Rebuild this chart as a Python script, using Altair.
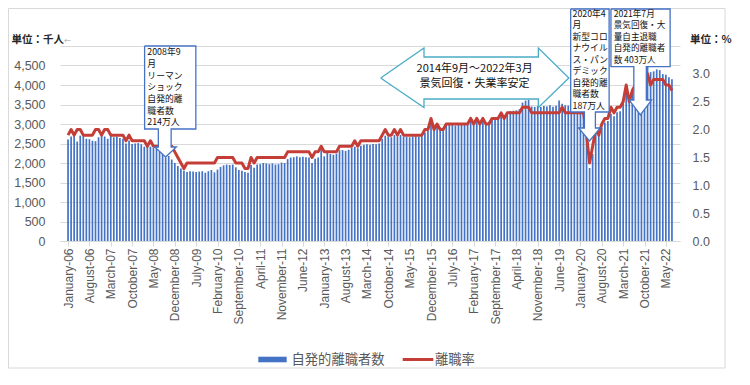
import altair as alt
import pandas as pd

# ---------------- data ----------------
# voluntary quits, thousands, monthly Jan-2006 .. Jul-2022
QUITS_2006 = [2600, 2680, 2760, 2550, 2700, 2690, 2620, 2610, 2570, 2560, 2660, 2780]
QUITS_2007 = [2680, 2620, 2760, 2660, 2680, 2640, 2620, 2500, 2580, 2490, 2500, 2510]
QUITS_2008 = [2480, 2420, 2460, 2420, 2390, 2360, 2300, 2260, 2140, 2180, 2090, 2000]
QUITS_2009 = [1920, 1860, 1800, 1770, 1790, 1780, 1770, 1780, 1790, 1750, 1790, 1820]
QUITS_2010 = [1760, 1830, 1900, 1940, 1960, 1950, 1960, 1890, 1820, 1800, 1770, 1750]
QUITS_2011 = [1950, 1880, 1960, 1970, 2000, 1990, 1970, 1990, 1960, 1970, 2010, 2000]
QUITS_2012 = [2100, 2140, 2150, 2170, 2150, 2160, 2150, 2140, 2000, 2110, 2140, 2330]
QUITS_2013 = [2170, 2260, 2230, 2210, 2240, 2330, 2330, 2310, 2340, 2390, 2420, 2380]
QUITS_2014 = [2440, 2470, 2480, 2470, 2490, 2480, 2500, 2620, 2700, 2680, 2660, 2720]
QUITS_2015 = [2680, 2720, 2680, 2670, 2660, 2680, 2690, 2680, 2710, 2780, 2820, 3080]
QUITS_2016 = [2860, 2930, 2880, 2900, 2970, 2980, 2990, 2960, 2970, 2980, 2990, 2990]
QUITS_2017 = [3100, 2980, 3150, 3020, 3130, 3030, 3060, 3130, 3110, 3160, 3220, 3160]
QUITS_2018 = [3300, 3330, 3340, 3350, 3380, 3550, 3600, 3620, 3450, 3440, 3460, 3440]
QUITS_2019 = [3460, 3450, 3480, 3440, 3470, 3600, 3520, 3480, 3470, 3460, 3480, 3450]
QUITS_2020 = [3450, 3440, 2900, 1870, 2230, 2720, 2700, 2900, 3040, 3080, 3260, 3200]
QUITS_2021 = [3300, 3330, 3560, 3980, 3620, 3880, 4030, 4270, 4360, 4200, 4480, 4330]
QUITS_2022 = [4350, 4400, 4380, 4280, 4260, 4200, 4150]

# quit rate, %
RATE_2006 = [1.9, 2.0, 1.9, 2.0, 2.0, 1.9, 1.9, 1.9, 1.9, 2.0, 2.0, 1.9]
RATE_2007 = [2.0, 2.0, 1.9, 1.9, 1.9, 1.9, 1.9, 1.8, 1.9, 1.8, 1.8, 1.8]
RATE_2008 = [1.8, 1.8, 1.7, 1.8, 1.7, 1.7, 1.7, 1.7, 1.7, 1.7, 1.7, 1.6]
RATE_2009 = [1.5, 1.4, 1.3, 1.4, 1.4, 1.4, 1.4, 1.4, 1.4, 1.4, 1.4, 1.4]
RATE_2010 = [1.4, 1.5, 1.5, 1.5, 1.5, 1.5, 1.5, 1.4, 1.4, 1.4, 1.3, 1.3]
RATE_2011 = [1.5, 1.4, 1.5, 1.5, 1.5, 1.5, 1.5, 1.5, 1.5, 1.5, 1.5, 1.5]
RATE_2012 = [1.6, 1.6, 1.6, 1.6, 1.6, 1.6, 1.6, 1.6, 1.5, 1.6, 1.6, 1.7]
RATE_2013 = [1.6, 1.6, 1.6, 1.6, 1.6, 1.7, 1.7, 1.7, 1.7, 1.7, 1.8, 1.7]
RATE_2014 = [1.8, 1.8, 1.8, 1.8, 1.8, 1.8, 1.8, 1.9, 2.0, 1.9, 1.9, 2.0]
RATE_2015 = [1.9, 2.0, 1.9, 1.9, 1.9, 1.9, 1.9, 1.9, 1.9, 2.0, 2.0, 2.2]
RATE_2016 = [2.0, 2.1, 2.0, 2.0, 2.1, 2.1, 2.1, 2.1, 2.1, 2.1, 2.1, 2.1]
RATE_2017 = [2.2, 2.1, 2.2, 2.1, 2.2, 2.1, 2.1, 2.2, 2.2, 2.2, 2.3, 2.2]
RATE_2018 = [2.3, 2.3, 2.3, 2.3, 2.3, 2.4, 2.4, 2.4, 2.3, 2.3, 2.3, 2.3]
RATE_2019 = [2.3, 2.3, 2.3, 2.3, 2.3, 2.3, 2.4, 2.3, 2.3, 2.3, 2.3, 2.3]
RATE_2020 = [2.3, 2.3, 1.9, 1.4, 1.7, 2.0, 1.9, 2.1, 2.2, 2.2, 2.4, 2.3]
RATE_2021 = [2.4, 2.4, 2.5, 2.8, 2.5, 2.7, 2.8, 2.9, 3.0, 3.0, 3.0, 2.8]
RATE_2022 = [2.9, 2.9, 2.9, 2.9, 2.8, 2.8, 2.7]

TICK_LABELS = ["January-06", "August-06", "March-07", "October-07", "May-08",
               "December-08", "July-09", "February-10", "September-10", "April-11",
               "November-11", "June-12", "January-13", "August-13", "March-14",
               "October-14", "May-15", "December-15", "July-16", "February-17",
               "September-17", "April-18", "November-18", "June-19", "January-20",
               "August-20", "March-21", "October-21", "May-22"]

SERIES_NAMES = ["自発的離職者数", "離職率"]
UNIT_LEFT = "単位：千人"
UNIT_RIGHT = "単位：%"

TEXT_2008 = ["2008年9", "月", "リーマン", "ショック", "自発的離", "職者数", "214万人"]
TEXT_2020 = ["2020年4", "月", "新型コロ", "ナウイル", "ス・パン", "デミック", "自発的離", "職者数", "187万人"]
TEXT_2021 = ["2021年7月", "景気回復・大", "量自主退職", "自発的離職者", "数 403万人"]
TEXT_ARROW = ["2014年9月～2022年3月", "景気回復・失業率安定"]

# ---------------- annotation geometry (month index, thousands) ----------------
SHAPE_2008 = [(25.1, 5000), (41.9, 5000), (41.9, 2872), (33.8, 2872), (33.8, 2410),
              (35.5, 2410), (32.0, 2154), (28.4, 2410), (29.6, 2410), (29.6, 2872),
              (25.1, 2872), (25.1, 5000)]
SHAPE_2020 = [(164.8, 5949), (177.4, 5949), (177.4, 3308), (172.9, 3308), (172.9, 2897),
              (174.5, 2897), (170.95, 2564), (167.4, 2897), (169.3, 2897), (169.3, 3308),
              (164.8, 3308), (164.8, 5949)]
SHAPE_2021 = [(178.0, 5949), (197.4, 5949), (197.4, 4470), (189.6, 4470), (189.6, 3615),
              (191.3, 3615), (187.65, 3231), (184.0, 3615), (185.5, 3615), (185.5, 4470),
              (178.0, 4470), (178.0, 5949)]
SHAPE_ARROW = [(102.5, 4179), (116.7, 4949), (116.7, 4718), (154.2, 4718), (154.2, 4949),
               (164.2, 4179), (154.2, 3423), (154.2, 3641), (116.7, 3641), (116.7, 3423),
               (102.5, 4179)]

# ---------------- build tables ----------------
quits = (QUITS_2006 + QUITS_2007 + QUITS_2008 + QUITS_2009 + QUITS_2010 + QUITS_2011 +
         QUITS_2012 + QUITS_2013 + QUITS_2014 + QUITS_2015 + QUITS_2016 + QUITS_2017 +
         QUITS_2018 + QUITS_2019 + QUITS_2020 + QUITS_2021 + QUITS_2022)
rate = (RATE_2006 + RATE_2007 + RATE_2008 + RATE_2009 + RATE_2010 + RATE_2011 +
        RATE_2012 + RATE_2013 + RATE_2014 + RATE_2015 + RATE_2016 + RATE_2017 +
        RATE_2018 + RATE_2019 + RATE_2020 + RATE_2021 + RATE_2022)
df = pd.DataFrame({"i": list(range(len(quits))), "quits": quits, "rate": rate})

W, H = 620, 195
X_DOMAIN = [-1, 199]
Y_DOMAIN = [0, 5000]
R_DOMAIN = [0, 3.5]
AX_COLOR = "#595959"
GRID = "#D9D9D9"
BLUE = "#4472C4"
RED = "#C43E37"
TEAL = "#4BACC6"
JP = "Noto Sans CJK JP"

label_expr = "[" + ",".join("'%s'" % s for s in TICK_LABELS) + "][round(datum.value/7)]"


def xenc(field):
    return alt.X(f"{field}:Q",
                 scale=alt.Scale(domain=X_DOMAIN, nice=False, zero=False),
                 axis=alt.Axis(values=list(range(0, 197, 7)), labelExpr=label_expr,
                               labelAngle=270, grid=False, tickSize=5, tickColor=GRID,
                               domainColor=GRID, labelFont="Liberation Sans",
                               labelFontSize=12, labelColor=AX_COLOR, labelPadding=2,
                               labelOverlap=False, labelFlush=False, title=None))


def yann(field):
    return alt.Y(f"{field}:Q", scale=alt.Scale(domain=Y_DOMAIN, nice=False), axis=None)


bars = alt.Chart(df).mark_bar(size=1.7, color=BLUE).encode(
    x=xenc("i"),
    y=alt.Y("quits:Q", scale=alt.Scale(domain=Y_DOMAIN, nice=False),
            axis=alt.Axis(values=list(range(0, 5001, 500)),
                          labelExpr="datum.value >= 5000 ? '' : format(datum.value, ',')",
                          grid=True, gridColor=GRID, domain=False, ticks=False,
                          labelFont="Liberation Sans", labelFontSize=12.5,
                          labelColor=AX_COLOR, labelPadding=15, title=None)),
)

line = alt.Chart(df).mark_line(color=RED, strokeWidth=3, strokeJoin="round").encode(
    x=xenc("i"),
    y=alt.Y("rate:Q", scale=alt.Scale(domain=R_DOMAIN, nice=False),
            axis=alt.Axis(orient="right", values=[0, 0.5, 1, 1.5, 2, 2.5, 3, 3.5],
                          labelExpr="datum.value > 3.01 ? '' : format(datum.value, '.1f')",
                          grid=False, domain=False, ticks=False,
                          labelFont="Liberation Sans", labelFontSize=12.5,
                          labelColor=AX_COLOR, labelPadding=12, title=None)),
)

rows = []
for name, pts in [("a2008", SHAPE_2008), ("a2020", SHAPE_2020), ("a2021", SHAPE_2021)]:
    for k, (xi, v) in enumerate(pts):
        rows.append({"shape": name, "k": k, "xi": xi, "v": v})
callout_df = pd.DataFrame(rows)
arrow_df = pd.DataFrame([{"k": k, "xi": xi, "v": v} for k, (xi, v) in enumerate(SHAPE_ARROW)])

callouts = alt.Chart(callout_df).mark_line(stroke=BLUE, fill="white", strokeWidth=1.3,
                                           strokeJoin="miter").encode(
    x=xenc("xi"), y=yann("v"), detail="shape:N", order="k:Q")

arrow = alt.Chart(arrow_df).mark_line(stroke=TEAL, fill="white", strokeWidth=1.3,
                                      strokeJoin="miter").encode(
    x=xenc("xi"), y=yann("v"), order="k:Q")


def block(lines, x0, v0, lh, fs):
    d = pd.DataFrame({"xi": [x0], "v": [v0]})
    d["t"] = [lines]
    return alt.Chart(d).mark_text(
        align="left", baseline="top", font=JP, fontSize=fs, lineHeight=lh,
        color="#111111").encode(x=xenc("xi"), y=yann("v"), text="t")


t2008 = block(TEXT_2008, 26.0, 4940, 11.67, 8.8)
t2020 = block(TEXT_2020, 165.4, 5925, 11.5, 8.8)
t2021 = block(TEXT_2021, 178.9, 5930, 11.5, 8.6)

atext = alt.Chart(pd.DataFrame({"xi": [133.3, 133.3], "v": [4410, 4026], "t": TEXT_ARROW})).mark_text(
    align="center", baseline="middle", font=JP, fontSize=11, color="#111111").encode(
    x=xenc("xi"), y=yann("v"), text="t:N")

one = pd.DataFrame({"a": [0]})
unit_l = alt.Chart(pd.DataFrame({"t": [UNIT_LEFT]})).mark_text(
    align="left", baseline="middle", font=JP, fontSize=10.5, fontWeight="bold",
    color="#262626").encode(x=alt.value(-48.5), y=alt.value(-6), text="t:N")
unit_arrow = alt.Chart(pd.DataFrame({"t": ["←"]})).mark_text(
    align="left", baseline="middle", font=JP, fontSize=7, color="#A6A6A6").encode(
    x=alt.value(4), y=alt.value(-5), text="t:N")
unit_r = alt.Chart(pd.DataFrame({"t": [UNIT_RIGHT]})).mark_text(
    align="left", baseline="middle", font=JP, fontSize=10.5, fontWeight="bold",
    color="#262626").encode(x=alt.value(630), y=alt.value(-6), text="t:N")

leg_rect = alt.Chart(one).mark_rect(color=BLUE).encode(
    x=alt.value(198.3), x2=alt.value(226.7), y=alt.value(310.7), y2=alt.value(316.3))
leg_line = alt.Chart(one).mark_rule(color=RED, strokeWidth=3).encode(
    x=alt.value(342.7), x2=alt.value(373.3), y=alt.value(313.5))
leg_text = alt.Chart(pd.DataFrame({"t": SERIES_NAMES, "px": [231.5, 375.0]})).mark_text(
    align="left", baseline="middle", font=JP, fontSize=13.3, color=AX_COLOR).encode(
    x=alt.X("px:Q", scale=None), y=alt.value(313.5), text="t:N")

border = alt.Chart(one).mark_rect(filled=False, stroke=GRID, strokeWidth=1).encode(
    x=alt.value(-51.5), x2=alt.value(665), y=alt.value(-37.5), y2=alt.value(322))

chart = alt.layer(
    border, bars, line, arrow, callouts, t2008, t2020, t2021, atext, unit_l, unit_arrow,
    unit_r, leg_rect, leg_line, leg_text
).resolve_scale(y="independent").properties(
    width=W, height=H,
    autosize=alt.AutoSizeParams(type="none"),
    padding={"left": 52, "top": 38, "right": 55, "bottom": 128},
    background="white",
).configure_view(strokeWidth=0)

chart.save("out.html", embed_options={"renderer": "svg", "actions": False})
